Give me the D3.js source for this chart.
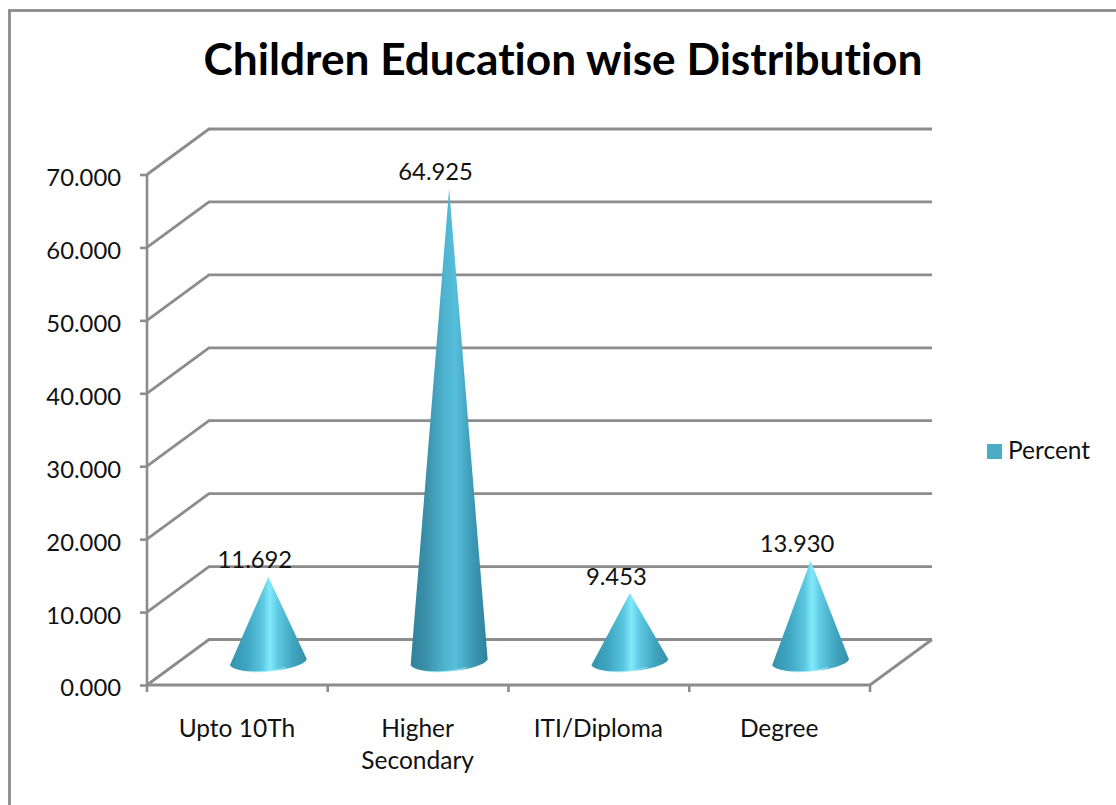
<!DOCTYPE html>
<html>
<head>
<meta charset="utf-8">
<script src="https://cdn.jsdelivr.net/npm/d3@7/dist/d3.min.js"></script>
<style>
html, body { margin: 0; padding: 0; background: #fff; overflow: hidden; }
svg { display: block; }
text { font-family: Lato, "Open Sans", sans-serif; fill: #111; font-variant-ligatures: none; }
</style>
</head>
<body>
<svg id="chart" width="1116" height="805"></svg>
<script>
// Chart content
const chartTitle = "Children Education wise Distribution";
const categories = ["Upto 10Th", "Higher Secondary", "ITI/Diploma", "Degree"];
const percentValues = [11.692, 64.925, 9.453, 13.930];
const valueTicks = [0, 10, 20, 30, 40, 50, 60, 70];
const seriesName = "Percent";

// Oblique projection of the 3D plot box
const depthX = 62, depthY = -45.5;
const frontLeft = 147, frontRight = 870, frontBottom = 685, frontTop = 174.5;
const gridColor = "#8c8c8c";

const svg = d3.select("#chart");
const x = d3.scaleBand().domain(categories).range([frontLeft, frontRight]);
const y = d3.scaleLinear().domain([0, 70]).range([frontBottom, frontTop]);

// Outer chart border, running off the right and bottom of the page
svg.append("rect")
  .attr("x", 9.5).attr("y", 10.5).attr("width", 1200).attr("height", 900)
  .attr("fill", "none").attr("stroke", gridColor).attr("stroke-width", 2.8);

svg.append("text")
  .attr("x", 563).attr("y", 75).attr("text-anchor", "middle")
  .attr("font-size", 44.2).attr("font-weight", 700).style("fill", "#000")
  .text(chartTitle);

// Back wall gridlines and the slanted side wall
const grid = svg.append("g").attr("fill", "none").attr("stroke", gridColor).attr("stroke-width", 2.8);
grid.selectAll("path.wall").data(valueTicks).join("path").attr("class", "wall")
  .attr("d", v => d3.line()([
    [frontLeft, y(v)],
    [frontLeft + depthX, y(v) + depthY],
    [frontRight + depthX, y(v) + depthY]
  ]));
// Floor edges
grid.append("path").attr("d", d3.line()([
  [frontLeft, frontBottom], [frontRight, frontBottom],
  [frontRight + depthX, frontBottom + depthY]
]));

// Value axis
const yAxis = svg.append("g")
  .attr("transform", `translate(${frontLeft},0)`)
  .call(d3.axisLeft(y).tickValues(valueTicks).tickFormat(d3.format(".3f")).tickSize(7).tickPadding(19));
yAxis.selectAll("path, line").attr("stroke", gridColor).attr("stroke-width", 2.6);
yAxis.select("path").attr("d", `M0,${y(70)}V${y(0)}`);
yAxis.selectAll("text").attr("font-size", 23.8).attr("font-family", "Lato").attr("dy", "0.46em").style("fill", "#111");

// Category axis: ticks on band edges, labels centred in each band
const edges = categories.map(c => x(c)).concat(frontRight);
svg.append("g").attr("stroke", gridColor).attr("stroke-width", 2.6)
  .selectAll("line").data(edges).join("line")
  .attr("x1", d => d).attr("x2", d => d)
  .attr("y1", frontBottom).attr("y2", frontBottom + 7);

const wrapped = { "Higher Secondary": ["Higher", "Secondary"] };
const catLabels = svg.append("g").selectAll("text").data(categories).join("text")
  .attr("text-anchor", "middle").attr("font-size", 24.5);
catLabels.each(function (c) {
  const lines = wrapped[c] || [c];
  d3.select(this).selectAll("tspan").data(lines).join("tspan")
    .attr("x", x(c) + x.bandwidth() / 2 - 0.5)
    .attr("y", (d, i) => 737 + i * 32)
    .text(d => d);
});

// Cone shading
const defs = svg.append("defs");
const shades = {
  bright: [[0, "#3593ad"], [0.22, "#3fa6c2"], [0.42, "#5ac6df"], [0.52, "#82e9fb"], [0.62, "#5fcbe3"], [0.82, "#41a5c0"], [1, "#358fa9"]],
  dark:   [[0, "#2f8199"], [0.2, "#3a90a9"], [0.45, "#4fb5d1"], [0.58, "#56bfdb"], [0.8, "#3c9ab5"], [1, "#2f829b"]]
};
Object.entries(shades).forEach(([id, stops]) => {
  const g = defs.append("linearGradient").attr("id", "cone-" + id);
  stops.forEach(([o, c]) => g.append("stop").attr("offset", o).attr("stop-color", c));
});

// Cones stand mid-way through the plot depth
const baseRadius = 38.5, baseTilt = 3, baseDepth = 10.5;
const cx = c => x(c) + x.bandwidth() / 2 + depthX / 2;
const baseY = frontBottom + depthY / 2;

const cones = svg.append("g").selectAll("g").data(categories).join("g");
cones.append("path")
  .attr("fill", (c, i) => percentValues[i] > 30 ? "url(#cone-dark)" : "url(#cone-bright)")
  .attr("d", (c, i) => {
    const top = baseY - (frontBottom - y(percentValues[i]));
    const l = [cx(c) - baseRadius, baseY + baseTilt];
    const r = [cx(c) + baseRadius, baseY - baseTilt];
    return `M${cx(c)},${top}L${l}A${baseRadius + 0.5},${baseDepth} -4.5 0 0 ${r}Z`;
  });
// Light rim along the base
cones.append("path")
  .attr("fill", "none").attr("stroke", "#a8eefa").attr("stroke-width", 1).attr("opacity", 0.7)
  .attr("d", c => {
    const l = [cx(c) - baseRadius * 0.6, baseY + baseTilt + 6];
    const r = [cx(c) + baseRadius * 0.45, baseY - baseTilt + 8];
    return `M${l}Q${cx(c) - 4},${baseY + 11.5} ${r}`;
  });

// Value labels sit up and to the left of each tip
svg.append("g").selectAll("text").data(categories).join("text")
  .attr("text-anchor", "middle").attr("font-size", 23.8)
  .attr("x", c => cx(c) - 13.5)
  .attr("y", (c, i) => baseY - (frontBottom - y(percentValues[i])) - 8.5)
  .text((c, i) => d3.format(".3f")(percentValues[i]));

// Legend
svg.append("rect").attr("x", 987).attr("y", 444).attr("width", 15).attr("height", 15).attr("fill", "#4bacc6");
svg.append("text").attr("x", 1008).attr("y", 459).attr("font-size", 24.5).text(seriesName);
</script>
</body>
</html>
